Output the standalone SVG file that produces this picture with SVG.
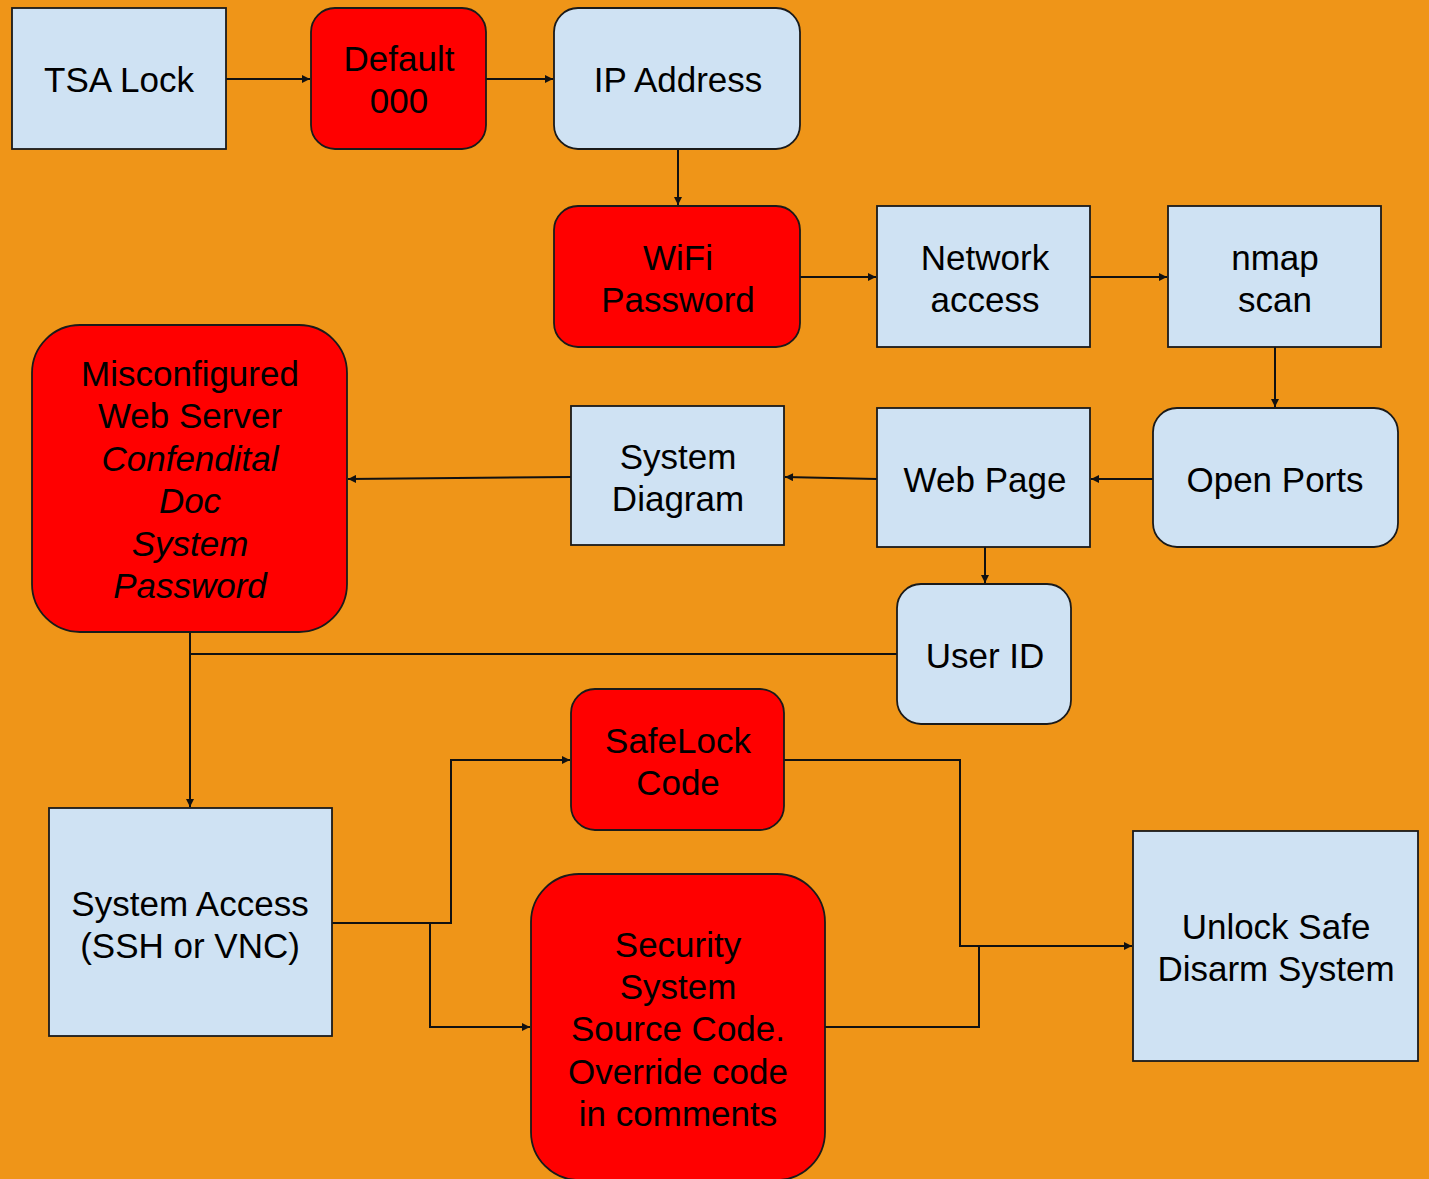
<svg xmlns="http://www.w3.org/2000/svg" width="1429" height="1179" viewBox="0 0 1429 1179">
<style>
.bl{fill:#CFE2F3;stroke:#1a1a1a;stroke-width:1.8}
.rd{fill:#FF0000;stroke:#1a1a1a;stroke-width:1.8}
text{font-family:"Liberation Sans",Arial,sans-serif;font-size:35px;fill:#000;text-anchor:middle}
.it{font-style:italic}
.c{fill:none;stroke:#111;stroke-width:2}
</style>
<defs>
<marker id="ah" viewBox="0 0 10 10" refX="10" refY="5" markerWidth="10" markerHeight="8" markerUnits="userSpaceOnUse" orient="auto">
<path d="M0,0 L10,5 L0,10 z" fill="#111"/>
</marker>
</defs>
<rect width="1429" height="1179" fill="#EF9518"/>
<g id="connectors">
<path class="c" d="M226,79 H310" marker-end="url(#ah)"/>
<path class="c" d="M486,79 H553" marker-end="url(#ah)"/>
<path class="c" d="M678,149 V205" marker-end="url(#ah)"/>
<path class="c" d="M800,277 H876" marker-end="url(#ah)"/>
<path class="c" d="M1090,277 H1167" marker-end="url(#ah)"/>
<path class="c" d="M1275,347 V407" marker-end="url(#ah)"/>
<path class="c" d="M1153,479 H1091" marker-end="url(#ah)"/>
<path class="c" d="M877,479 L785,477" marker-end="url(#ah)"/>
<path class="c" d="M571,477 L348,479" marker-end="url(#ah)"/>
<path class="c" d="M985,547 V583" marker-end="url(#ah)"/>
<path class="c" d="M190,632 V807" marker-end="url(#ah)"/>
<path class="c" d="M897,654 H190"/>
<path class="c" d="M332,923 H451 V760 H570" marker-end="url(#ah)"/>
<path class="c" d="M430,923 V1027 H530" marker-end="url(#ah)"/>
<path class="c" d="M784,760 H960 V946 H1132" marker-end="url(#ah)"/>
<path class="c" d="M825,1027 H979 V946"/>
</g>
<g id="tsa-lock"><rect class="bl" x="12" y="8" width="214" height="141"/><text x="119" y="92">TSA Lock</text></g>
<g id="default-000"><rect class="rd" x="311" y="8" width="175" height="141" rx="24"/><text x="399" y="71">Default</text><text x="399" y="113">000</text></g>
<g id="ip-address"><rect class="bl" x="554" y="8" width="246" height="141" rx="24"/><text x="678" y="92">IP Address</text></g>
<g id="wifi-password"><rect class="rd" x="554" y="206" width="246" height="141" rx="24"/><text x="678" y="270">WiFi</text><text x="678" y="312">Password</text></g>
<g id="network-access"><rect class="bl" x="877" y="206" width="213" height="141"/><text x="985" y="270">Network</text><text x="985" y="312">access</text></g>
<g id="nmap-scan"><rect class="bl" x="1168" y="206" width="213" height="141"/><text x="1275" y="270">nmap</text><text x="1275" y="312">scan</text></g>
<g id="open-ports"><rect class="bl" x="1153" y="408" width="245" height="139" rx="24"/><text x="1275" y="492">Open Ports</text></g>
<g id="web-page"><rect class="bl" x="877" y="408" width="213" height="139"/><text x="985" y="492">Web Page</text></g>
<g id="system-diagram"><rect class="bl" x="571" y="406" width="213" height="139"/><text x="678" y="469">System</text><text x="678" y="511">Diagram</text></g>
<g id="misconfigured"><rect class="rd" x="32" y="325" width="315" height="307" rx="48"/>
<text x="190" y="386">Misconfigured</text><text x="190" y="428">Web Server</text>
<text class="it" x="190" y="471">Confendital</text><text class="it" x="190" y="513">Doc</text><text class="it" x="190" y="556">System</text><text class="it" x="190" y="598">Password</text></g>
<g id="user-id"><rect class="bl" x="897" y="584" width="174" height="140" rx="24"/><text x="985" y="668">User ID</text></g>
<g id="safelock-code"><rect class="rd" x="571" y="689" width="213" height="141" rx="24"/><text x="678" y="753">SafeLock</text><text x="678" y="795">Code</text></g>
<g id="security-system"><rect class="rd" x="531" y="874" width="294" height="306" rx="48"/>
<text x="678" y="957">Security</text><text x="678" y="999">System</text><text x="678" y="1041">Source Code.</text><text x="678" y="1084">Override code</text><text x="678" y="1126">in comments</text></g>
<g id="system-access"><rect class="bl" x="49" y="808" width="283" height="228"/><text x="190" y="916">System Access</text><text x="190" y="958">(SSH or VNC)</text></g>
<g id="unlock-safe"><rect class="bl" x="1133" y="831" width="285" height="230"/><text x="1276" y="939">Unlock Safe</text><text x="1276" y="981">Disarm System</text></g>
</svg>
